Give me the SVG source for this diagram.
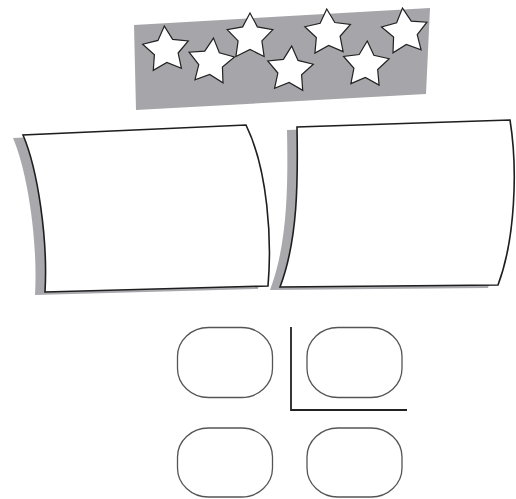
<svg xmlns="http://www.w3.org/2000/svg" xmlns:xlink="http://www.w3.org/1999/xlink" width="516" height="499" viewBox="0 0 516 499">
<style>
.banner{fill:#a6a6aa;stroke:none}
.star{fill:#fff;stroke:#222;stroke-width:1.2;stroke-linejoin:miter}
.card{fill:#fff;stroke:#1e1e1e;stroke-width:1.6}
.shadow{fill:#a9a9ad;stroke:none}
.box{fill:#fff;stroke:#555;stroke-width:1.3}
.axis{fill:none;stroke:#222;stroke-width:1.8}
</style>
<defs>
<path id="starShape" d="M0,-24 L7.35,-10.11 L22.83,-7.42 L11.89,3.86 L14.11,19.42 L0,12.5 L-14.11,19.42 L-11.89,3.86 L-22.83,-7.42 L-7.35,-10.11 Z"/>
</defs>
<g id="banner">
<path class="banner" d="M134,25 L430,8 L426,94 L136,110 Z"/>
<use xlink:href="#starShape" class="star" transform="translate(166,50) rotate(-4)"/>
<use xlink:href="#starShape" class="star" transform="translate(211,62) rotate(6)"/>
<use xlink:href="#starShape" class="star" transform="translate(250,37) rotate(0)"/>
<use xlink:href="#starShape" class="star" transform="translate(290,70) rotate(4)"/>
<use xlink:href="#starShape" class="star" transform="translate(328,33) rotate(-3)"/>
<use xlink:href="#starShape" class="star" transform="translate(366,65) rotate(3)"/>
<use xlink:href="#starShape" class="star" transform="translate(405,32) rotate(-6)"/>
</g>
<g id="card-left">
<path class="shadow" transform="translate(-10,3)" d="M23,135 C38,170 48,240 45,292 L268,286 C272,240 268,170 246,125 Z"/>
<path class="card" d="M23,135 C38,170 48,240 45,292 L268,286 C272,240 268,170 246,125 Z"/>
</g>
<g id="card-right">
<path class="shadow" transform="translate(-10,3)" d="M297,127 C298,180 298,240 280,287 L498,285 C515,240 518,170 510,120 Z"/>
<path class="card" d="M297,127 C298,180 298,240 280,287 L498,285 C515,240 518,170 510,120 Z"/>
</g>
<g id="box-1"><rect class="box" x="177.5" y="327.5" width="95" height="70" rx="31" ry="29"/></g>
<g id="box-2"><rect class="box" x="307" y="327.5" width="95" height="70" rx="31" ry="29"/></g>
<g id="box-3"><rect class="box" x="177.5" y="428" width="95" height="69" rx="31" ry="29"/></g>
<g id="box-4"><rect class="box" x="307" y="428" width="95" height="69" rx="31" ry="29"/></g>
<g id="connectors">
<path class="axis" d="M291,327 L291,410 L407,410"/>
</g>
</svg>
